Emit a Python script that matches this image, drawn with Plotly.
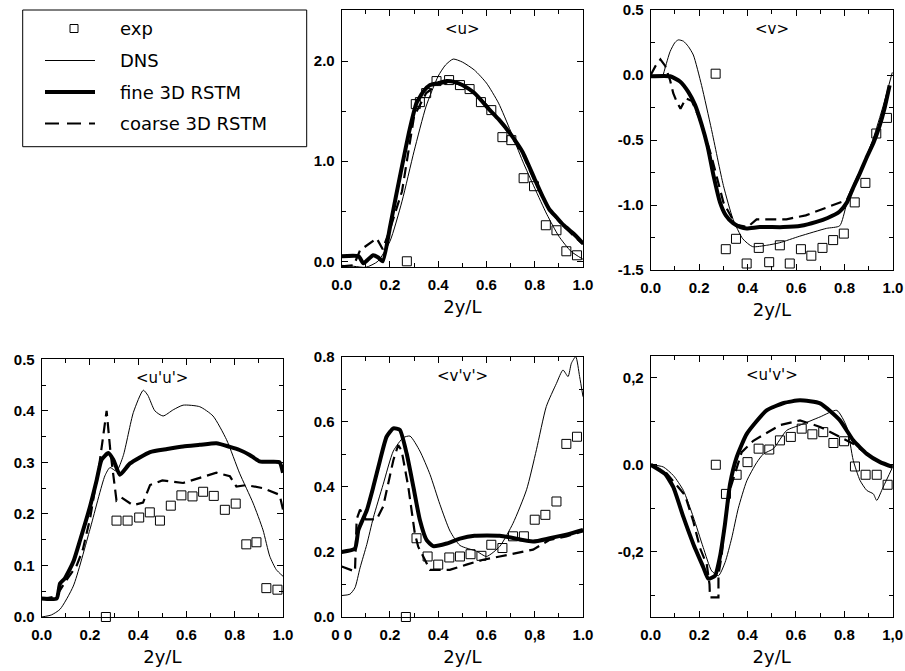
import plotly.graph_objects as go

# ---------------- data ----------------
# <u>
u_exp_x = [0.27, 0.307, 0.324, 0.35, 0.393, 0.445, 0.49, 0.53, 0.577, 0.62, 0.666, 0.703, 0.754, 0.797, 0.846, 0.89, 0.931, 0.975]
u_exp_y = [0.0, 1.57, 1.59, 1.68, 1.80, 1.81, 1.76, 1.72, 1.59, 1.51, 1.24, 1.21, 0.83, 0.75, 0.36, 0.31, 0.10, 0.06]
u_dns_x = [0.0, 0.05, 0.1, 0.15, 0.2, 0.25, 0.3, 0.35, 0.4, 0.43, 0.462, 0.5, 0.55, 0.6, 0.65, 0.7, 0.75, 0.8, 0.85, 0.9, 0.95, 1.0]
u_dns_y = [-0.04, -0.05, -0.06, 0.0, 0.2, 0.6, 1.1, 1.55, 1.85, 1.96, 2.02, 1.99, 1.91, 1.78, 1.58, 1.3, 1.0, 0.73, 0.47, 0.25, 0.1, 0.02]
u_fine_x = [0.0, 0.07, 0.09, 0.11, 0.13, 0.15, 0.17, 0.2, 0.225, 0.255, 0.28, 0.31, 0.34, 0.366, 0.40, 0.434, 0.47, 0.5, 0.55, 0.614, 0.65, 0.7, 0.75, 0.8, 0.834, 0.86, 0.89, 0.92, 0.959, 1.0]
u_fine_y = [0.05, 0.05, -0.02, 0.02, 0.06, 0.04, 0.0, 0.34, 0.65, 1.01, 1.3, 1.58, 1.70, 1.76, 1.78, 1.80, 1.79, 1.76, 1.68, 1.51, 1.42, 1.27, 1.09, 0.82, 0.64, 0.52, 0.44, 0.36, 0.28, 0.18]
u_coarse_x = [0.0, 0.05, 0.076, 0.1, 0.145, 0.17, 0.2, 0.25, 0.3, 0.35, 0.4, 0.45, 0.5, 0.55, 0.6, 0.65, 0.7, 0.75, 0.8, 0.85, 0.9, 0.95, 1.0]
u_coarse_y = [-0.05, -0.04, 0.11, 0.15, 0.23, 0.12, 0.32, 0.7, 1.45, 1.68, 1.77, 1.79, 1.76, 1.68, 1.56, 1.42, 1.26, 1.07, 0.80, 0.56, 0.40, 0.28, 0.17]

# <v>
v_exp_x = [0.268, 0.31, 0.352, 0.396, 0.446, 0.489, 0.533, 0.574, 0.62, 0.663, 0.709, 0.753, 0.797, 0.842, 0.886, 0.931, 0.975]
v_exp_y = [0.01, -1.34, -1.26, -1.45, -1.33, -1.44, -1.31, -1.45, -1.34, -1.39, -1.33, -1.27, -1.22, -0.98, -0.83, -0.45, -0.33]
v_dns_x = [0.05, 0.065, 0.08, 0.1, 0.114, 0.135, 0.155, 0.176, 0.21, 0.251, 0.3, 0.34, 0.38, 0.42, 0.478, 0.533, 0.615, 0.725, 0.78, 0.808, 0.863, 0.918, 0.959, 0.997]
v_dns_y = [-0.01, 0.09, 0.18, 0.25, 0.27, 0.26, 0.22, 0.154, -0.08, -0.42, -0.85, -1.11, -1.26, -1.32, -1.31, -1.29, -1.24, -1.18, -1.16, -1.0, -0.75, -0.49, -0.24, 0.02]
v_fine_x = [0.0, 0.08, 0.121, 0.155, 0.183, 0.21, 0.235, 0.26, 0.286, 0.31, 0.34, 0.37, 0.396, 0.45, 0.547, 0.62, 0.684, 0.73, 0.78, 0.81, 0.835, 0.86, 0.89, 0.92, 0.945, 0.966, 0.986]
v_fine_y = [-0.01, -0.01, -0.05, -0.13, -0.23, -0.38, -0.55, -0.78, -0.98, -1.08, -1.14, -1.17, -1.18, -1.17, -1.17, -1.16, -1.13, -1.10, -1.05, -0.98, -0.87, -0.77, -0.64, -0.52, -0.39, -0.25, -0.08]
v_coarse_x = [0.0, 0.02, 0.04, 0.06, 0.08, 0.093, 0.106, 0.123, 0.145, 0.17, 0.2, 0.25, 0.3, 0.35, 0.4, 0.437, 0.5, 0.56, 0.64, 0.71, 0.78, 0.81, 0.85, 0.9, 0.95, 0.98]
v_coarse_y = [0.0, 0.07, 0.12, 0.07, -0.04, -0.14, -0.2, -0.26, -0.18, -0.2, -0.33, -0.62, -0.98, -1.15, -1.17, -1.11, -1.11, -1.11, -1.08, -1.03, -0.98, -0.96, -0.8, -0.6, -0.35, -0.12]

# <u'u'>
uu_exp_x = [0.266, 0.31, 0.356, 0.404, 0.448, 0.49, 0.535, 0.579, 0.625, 0.669, 0.713, 0.759, 0.804, 0.848, 0.89, 0.931, 0.977]
uu_exp_y = [0.0, 0.187, 0.187, 0.193, 0.203, 0.187, 0.216, 0.236, 0.234, 0.243, 0.235, 0.208, 0.22, 0.141, 0.145, 0.056, 0.053]
uu_dns_x = [0.0, 0.04, 0.076, 0.131, 0.2, 0.262, 0.283, 0.31, 0.338, 0.38, 0.421, 0.44, 0.469, 0.503, 0.545, 0.586, 0.655, 0.71, 0.766, 0.82, 0.876, 0.917, 0.945, 0.972, 1.0]
uu_dns_y = [0.0, 0.004, 0.015, 0.06, 0.17, 0.274, 0.29, 0.283, 0.313, 0.397, 0.44, 0.43, 0.4, 0.39, 0.402, 0.411, 0.408, 0.39, 0.344, 0.279, 0.221, 0.169, 0.118, 0.092, 0.079]
uu_fine_x = [0.0, 0.062, 0.076, 0.096, 0.131, 0.159, 0.2, 0.228, 0.248, 0.276, 0.297, 0.324, 0.366, 0.449, 0.52, 0.586, 0.655, 0.724, 0.78, 0.82, 0.86, 0.903, 0.95, 0.986, 1.0]
uu_fine_y = [0.036, 0.036, 0.065, 0.075, 0.107, 0.149, 0.214, 0.266, 0.305, 0.318, 0.305, 0.276, 0.298, 0.32, 0.326, 0.331, 0.334, 0.337, 0.33, 0.324, 0.315, 0.302, 0.301, 0.3, 0.28]
uu_coarse_x = [0.0, 0.06, 0.1, 0.131, 0.145, 0.17, 0.2, 0.24, 0.269, 0.285, 0.305, 0.31, 0.33, 0.378, 0.42, 0.449, 0.5, 0.586, 0.655, 0.724, 0.78, 0.807, 0.848, 0.917, 0.986, 1.0]
uu_coarse_y = [0.035, 0.04, 0.07, 0.09, 0.1, 0.13, 0.19, 0.3, 0.4, 0.32, 0.245, 0.226, 0.232, 0.217, 0.222, 0.256, 0.265, 0.26, 0.27, 0.28, 0.273, 0.253, 0.256, 0.25, 0.237, 0.208]

# <v'v'>
vv_exp_x = [0.266, 0.31, 0.356, 0.40, 0.446, 0.49, 0.534, 0.579, 0.62, 0.666, 0.71, 0.755, 0.80, 0.844, 0.89, 0.931, 0.975]
vv_exp_y = [0.0, 0.242, 0.186, 0.161, 0.183, 0.186, 0.193, 0.188, 0.222, 0.212, 0.248, 0.248, 0.299, 0.314, 0.355, 0.532, 0.554]
vv_dns_x = [0.0, 0.034, 0.055, 0.076, 0.104, 0.131, 0.172, 0.214, 0.255, 0.283, 0.324, 0.366, 0.407, 0.449, 0.49, 0.559, 0.6, 0.655, 0.71, 0.766, 0.807, 0.848, 0.89, 0.917, 0.938, 0.952, 0.97, 0.986, 1.0]
vv_dns_y = [0.066, 0.07, 0.09, 0.151, 0.223, 0.305, 0.408, 0.51, 0.551, 0.556, 0.51, 0.438, 0.346, 0.264, 0.22, 0.202, 0.186, 0.217, 0.288, 0.391, 0.514, 0.647, 0.718, 0.759, 0.739, 0.78, 0.8, 0.739, 0.677]
vv_fine_x = [0.0, 0.055, 0.069, 0.104, 0.131, 0.159, 0.186, 0.214, 0.241, 0.269, 0.297, 0.324, 0.352, 0.379, 0.435, 0.49, 0.55, 0.655, 0.793, 0.862, 0.931, 1.0]
vv_fine_y = [0.2, 0.21, 0.267, 0.328, 0.4, 0.482, 0.554, 0.58, 0.575, 0.503, 0.4, 0.298, 0.236, 0.218, 0.226, 0.241, 0.25, 0.25, 0.232, 0.242, 0.253, 0.268]
vv_coarse_x = [0.0, 0.055, 0.062, 0.076, 0.1, 0.145, 0.172, 0.193, 0.214, 0.234, 0.248, 0.276, 0.29, 0.303, 0.317, 0.345, 0.366, 0.393, 0.448, 0.517, 0.586, 0.655, 0.724, 0.793, 0.862, 0.931, 1.0]
vv_coarse_y = [0.155, 0.14, 0.3, 0.33, 0.3, 0.3, 0.34, 0.41, 0.482, 0.528, 0.513, 0.4, 0.318, 0.257, 0.216, 0.175, 0.145, 0.145, 0.145, 0.161, 0.176, 0.186, 0.196, 0.207, 0.237, 0.248, 0.263]

# <u'v'>
uv_exp_x = [0.269, 0.311, 0.355, 0.40, 0.446, 0.49, 0.534, 0.579, 0.624, 0.668, 0.713, 0.755, 0.799, 0.844, 0.888, 0.934, 0.979]
uv_exp_y = [0.0, -0.067, -0.023, 0.006, 0.037, 0.035, 0.056, 0.064, 0.083, 0.07, 0.075, 0.05, 0.054, -0.004, -0.023, -0.023, -0.046]
uv_dns_x = [0.0, 0.052, 0.094, 0.135, 0.176, 0.217, 0.252, 0.28, 0.307, 0.335, 0.362, 0.397, 0.438, 0.466, 0.507, 0.562, 0.617, 0.7, 0.769, 0.81, 0.837, 0.865, 0.893, 0.92, 0.934, 0.96, 1.0]
uv_dns_y = [0.0, -0.005, -0.025, -0.059, -0.12, -0.19, -0.244, -0.255, -0.225, -0.168, -0.1, -0.037, 0.005, 0.025, 0.037, 0.079, 0.091, 0.11, 0.125, 0.087, 0.01, -0.036, -0.059, -0.067, -0.082, -0.052, -0.005]
uv_fine_x = [0.0, 0.059, 0.093, 0.135, 0.176, 0.217, 0.238, 0.266, 0.286, 0.307, 0.328, 0.355, 0.397, 0.479, 0.55, 0.617, 0.7, 0.782, 0.837, 0.893, 0.948, 1.0]
uv_fine_y = [0.0, -0.021, -0.051, -0.12, -0.182, -0.235, -0.262, -0.255, -0.212, -0.136, -0.044, 0.017, 0.071, 0.125, 0.142, 0.148, 0.141, 0.102, 0.056, 0.025, 0.006, -0.005]
uv_coarse_x = [0.0, 0.066, 0.142, 0.176, 0.204, 0.232, 0.243, 0.245, 0.28, 0.28, 0.293, 0.307, 0.328, 0.376, 0.424, 0.452, 0.534, 0.617, 0.7, 0.782, 0.837, 0.893, 0.948, 1.0]
uv_coarse_y = [0.0, -0.02, -0.07, -0.13, -0.192, -0.23, -0.275, -0.305, -0.305, -0.252, -0.21, -0.133, -0.056, 0.029, 0.055, 0.064, 0.091, 0.102, 0.087, 0.064, 0.048, 0.025, 0.006, -0.005]

panel_titles = ["<u>", "<v>", "<u'u'>", "<v'v'>", "<u'v'>"]
legend_labels = ["exp", "DNS", "fine 3D RSTM", "coarse 3D RSTM"]
x_title = "2y/L"

x_tickvals = [0.0, 0.2, 0.4, 0.6, 0.8, 1.0]
x_ticktext = {
    1: ["0.0", "0.2", "0.4", "0.6", "0.8", "1.0"],
    2: ["0.0", "0.2", "0.4", "0.6", "0.8", "1.0"],
    3: ["0.0", "0.2", "0.4", "0.6", "0.8", "1.0"],
    4: ["0 0", "0.2", "0.4", "0.6", "0,8", "1.0"],
    5: ["0.0", "0.2", "0.4", "0.6", "0.8", "1,0"],
}
y_tickvals = {
    1: [0.0, 1.0, 2.0],
    2: [-1.5, -1.0, -0.5, 0.0, 0.5],
    3: [0.0, 0.1, 0.2, 0.3, 0.4, 0.5],
    4: [0.0, 0.2, 0.4, 0.6, 0.8],
    5: [-0.2, 0.0, 0.2],
}
y_ticktext = {
    1: ["0.0", "1.0", "2.0"],
    2: ["-1.5", "-1.0", "-0.5", "0.0", "0.5"],
    3: ["0.0", "0.1", "0.2", "0.3", "0.4", "0.5"],
    4: ["0.0", "0.2", "0.4", "0.6", "0.8"],
    5: ["-0,2", "0.0", "0,2"],
}
y_ranges = {1: [-0.057, 2.51], 2: [-1.5, 0.5], 3: [0.0, 0.5], 4: [0.0, 0.8], 5: [-0.35, 0.25]}
y_minor = {1: 0.5, 2: 0.25, 3: 0.05, 4: 0.1, 5: 0.1}

# ---------------- layout geometry (pixels) ----------------
W, H = 905, 671
boxes = {  # left, right, top, bottom
    1: (341.7, 583.0, 10.0, 267.0),
    2: (650.7, 893.0, 10.0, 270.0),
    3: (41.7, 283.0, 359.3, 617.0),
    4: (341.7, 583.0, 356.7, 617.0),
    5: (650.7, 892.7, 356.0, 617.0),
}

series = {
    1: (u_exp_x, u_exp_y, u_dns_x, u_dns_y, u_fine_x, u_fine_y, u_coarse_x, u_coarse_y),
    2: (v_exp_x, v_exp_y, v_dns_x, v_dns_y, v_fine_x, v_fine_y, v_coarse_x, v_coarse_y),
    3: (uu_exp_x, uu_exp_y, uu_dns_x, uu_dns_y, uu_fine_x, uu_fine_y, uu_coarse_x, uu_coarse_y),
    4: (vv_exp_x, vv_exp_y, vv_dns_x, vv_dns_y, vv_fine_x, vv_fine_y, vv_coarse_x, vv_coarse_y),
    5: (uv_exp_x, uv_exp_y, uv_dns_x, uv_dns_y, uv_fine_x, uv_fine_y, uv_coarse_x, uv_coarse_y),
}

FONT = "Liberation Sans, Arial, Helvetica, sans-serif"
WIDE = "DejaVu Sans, Verdana, sans-serif"
fig = go.Figure()

for i in range(1, 6):
    ex, ey, dx, dy, fx, fy, cx, cy = series[i]
    xa = "x" if i == 1 else f"x{i}"
    ya = "y" if i == 1 else f"y{i}"
    fig.add_trace(go.Scatter(x=dx, y=dy, mode="lines", xaxis=xa, yaxis=ya,
                             line=dict(color="black", width=1, shape="spline", smoothing=0.6),
                             name=legend_labels[1], showlegend=False))
    fig.add_trace(go.Scatter(x=cx, y=cy, mode="lines", xaxis=xa, yaxis=ya,
                             line=dict(color="black", width=2.2, dash="11px,6px"), name=legend_labels[3], showlegend=False))
    fig.add_trace(go.Scatter(x=fx, y=fy, mode="lines", xaxis=xa, yaxis=ya,
                             line=dict(color="black", width=4, shape="spline", smoothing=0.5),
                             name=legend_labels[2], showlegend=False))
    fig.add_trace(go.Scatter(x=ex, y=ey, mode="markers", xaxis=xa, yaxis=ya, cliponaxis=False,
                             marker=dict(symbol="square-open", size=9, color="black", line=dict(width=1)),
                             name=legend_labels[0], showlegend=False))

layout = dict(
    template="none",
    width=W, height=H, margin=dict(l=0, r=0, t=0, b=0, autoexpand=False),
    paper_bgcolor="white", plot_bgcolor="white", showlegend=False,
    font=dict(family=FONT, color="black", size=15),
)
annotations = []
for i in range(1, 6):
    l, r, t, b = boxes[i]
    kx = "xaxis" if i == 1 else f"xaxis{i}"
    ky = "yaxis" if i == 1 else f"yaxis{i}"
    xa = "x" if i == 1 else f"x{i}"
    ya = "y" if i == 1 else f"y{i}"
    common = dict(showline=True, linecolor="black", linewidth=1, mirror="ticks", showgrid=False, zeroline=False,
                  automargin=False, ticks="inside", ticklen=6, tickwidth=1, tickcolor="black",
                  tickfont=dict(family=FONT, size=15, color="black", weight="bold"))
    layout[kx] = dict(common, domain=[l / W, r / W], anchor=ya, range=[0, 1],
                      tickmode="array", tickvals=x_tickvals, ticktext=x_ticktext[i], ticklabelstandoff=4,
                      minor=dict(dtick=0.1, tick0=0, ticks="inside", ticklen=4, tickcolor="black", showgrid=False),
                      title=dict(text=x_title, font=dict(family=WIDE, size=18, color="black"), standoff=8))
    layout[ky] = dict(common, domain=[1 - b / H, 1 - t / H], anchor=xa, range=y_ranges[i],
                      tickmode="array", tickvals=y_tickvals[i], ticktext=y_ticktext[i], ticklabelstandoff=3,
                      minor=dict(dtick=y_minor[i], tick0=0, ticks="inside", ticklen=4, tickcolor="black", showgrid=False))
    annotations.append(dict(text=panel_titles[i - 1].replace("<", "&lt;").replace(">", "&gt;"),
                            xref=f"{xa} domain", yref=f"{ya} domain", x=0.5, y=1 - 19 / (b - t),
                            showarrow=False, xanchor="center", yanchor="middle",
                            font=dict(family=WIDE, size=15, color="black")))

# legend box (drawn manually)
LL, LR, LT, LB = 22.7, 306.7, 10.0, 146.7
shapes = [dict(type="rect", xref="paper", yref="paper", x0=LL / W, x1=LR / W, y0=1 - LB / H, y1=1 - LT / H,
               line=dict(color="black", width=1), fillcolor="white", layer="above")]
row_y = [28.5, 60.5, 92.0, 123.5]
shapes.append(dict(type="rect", xref="paper", yref="paper", x0=70 / W, x1=78 / W,
                   y0=1 - (row_y[0] + 4) / H, y1=1 - (row_y[0] - 4) / H, line=dict(color="black", width=1), layer="above"))
shapes.append(dict(type="line", xref="paper", yref="paper", x0=45 / W, x1=95 / W,
                   y0=1 - row_y[1] / H, y1=1 - row_y[1] / H, line=dict(color="black", width=1), layer="above"))
shapes.append(dict(type="line", xref="paper", yref="paper", x0=45 / W, x1=95 / W,
                   y0=1 - row_y[2] / H, y1=1 - row_y[2] / H, line=dict(color="black", width=4), layer="above"))
shapes.append(dict(type="line", xref="paper", yref="paper", x0=45 / W, x1=95 / W,
                   y0=1 - row_y[3] / H, y1=1 - row_y[3] / H, line=dict(color="black", width=2.2, dash="14px,8px"), layer="above"))
for lab, yy in zip(legend_labels, row_y):
    annotations.append(dict(text=lab, xref="paper", yref="paper", x=118 / W, y=1 - yy / H,
                            xanchor="left", yanchor="middle", showarrow=False,
                            font=dict(family=WIDE, size=18, color="black")))

layout["annotations"] = annotations
layout["shapes"] = shapes
fig.update_layout(**layout)
fig.write_html("out.html", config={"displayModeBar": False},
               post_script="document.body.style.margin='0';document.body.style.padding='0';document.body.style.overflow='hidden';")
